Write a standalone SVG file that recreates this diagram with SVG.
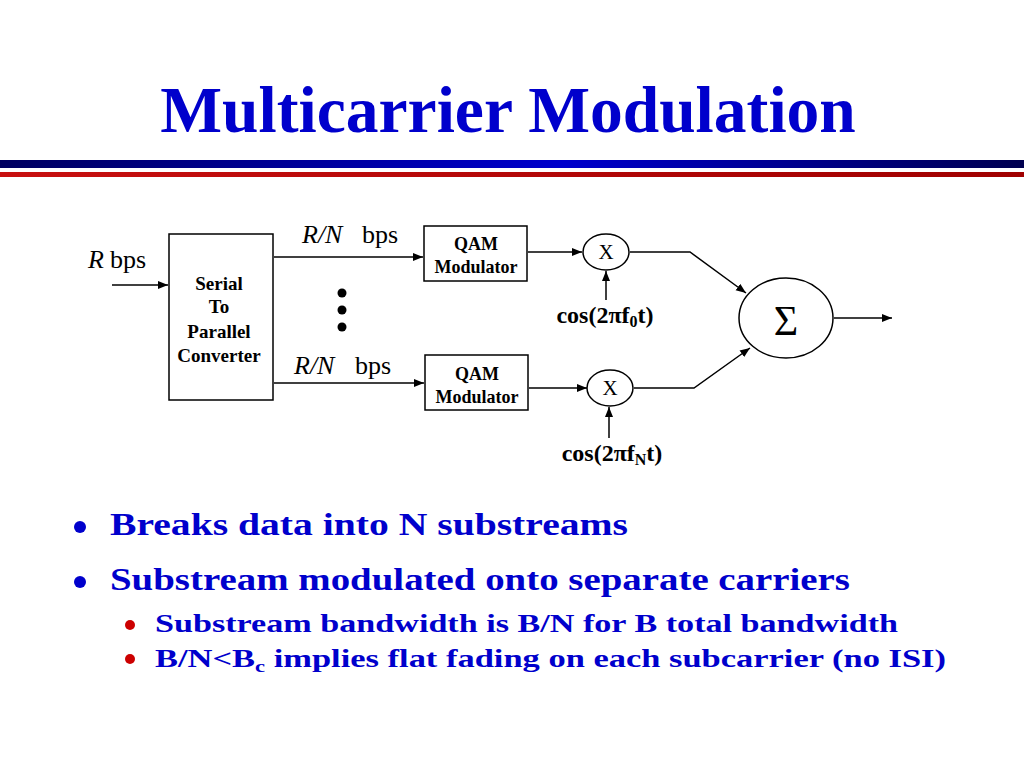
<svg xmlns="http://www.w3.org/2000/svg" width="1024" height="768" viewBox="0 0 1024 768">
<defs>
<linearGradient id="gb" x1="0" y1="0" x2="1" y2="0">
<stop offset="0" stop-color="#000060"/>
<stop offset="0.55" stop-color="#0000CC"/>
<stop offset="1" stop-color="#000050"/>
</linearGradient>
<linearGradient id="gr" x1="0" y1="0" x2="1" y2="0">
<stop offset="0" stop-color="#C81010"/>
<stop offset="1" stop-color="#A00000"/>
</linearGradient>
<marker id="ah" viewBox="0 0 10 10" refX="10" refY="5" markerWidth="10" markerHeight="10" markerUnits="userSpaceOnUse" orient="auto">
<path d="M0,1 L10,5 L0,9 Z" fill="#000"/>
</marker>
<style>
.t{font-family:"Liberation Serif","Times New Roman",serif;fill:#000}
.b{font-weight:bold}
.box{fill:#fff;stroke:#000;stroke-width:1.5}
.ln{fill:none;stroke:#000;stroke-width:1.5}
.ar{fill:none;stroke:#000;stroke-width:1.5;marker-end:url(#ah)}
.blue{font-family:"Liberation Serif","Times New Roman",serif;font-weight:bold;fill:#0000CC}
</style>
</defs>
<rect width="1024" height="768" fill="#fff"/>
<text class="blue" x="508" y="132" font-size="65.5" text-anchor="middle">Multicarrier Modulation</text>
<rect x="0" y="160" width="1024" height="8" fill="url(#gb)"/>
<rect x="0" y="172" width="1024" height="5" fill="url(#gr)"/>

<g id="connectors">
<line class="ar" x1="112" y1="285" x2="168" y2="285"/>
<line class="ar" x1="274" y1="257" x2="423" y2="257"/>
<line class="ar" x1="274" y1="383" x2="424" y2="383"/>
<line class="ar" x1="528" y1="252" x2="582" y2="252"/>
<line class="ar" x1="529" y1="388" x2="587" y2="388"/>
<line class="ar" x1="606" y1="300" x2="606" y2="271"/>
<line class="ar" x1="609" y1="438" x2="609" y2="407"/>
<polyline class="ar" points="630,252 690,252 746,293"/>
<polyline class="ar" points="634,388 694,388 750,348"/>
<line class="ar" x1="834" y1="318" x2="892" y2="318"/>
</g>

<g id="rbps"><text class="t" x="88" y="268" font-size="26"><tspan font-style="italic">R</tspan><tspan x="110">bps</tspan></text></g>
<g id="s2p">
<rect class="box" x="169" y="234" width="104" height="166"/>
<text class="t b" x="219" y="290" font-size="19" text-anchor="middle">Serial</text>
<text class="t b" x="219" y="313" font-size="19" text-anchor="middle">To</text>
<text class="t b" x="219" y="338" font-size="19" text-anchor="middle">Parallel</text>
<text class="t b" x="219" y="362" font-size="19" text-anchor="middle">Converter</text>
</g>
<g id="rn1"><text class="t" x="302" y="243" font-size="26"><tspan font-style="italic">R/N</tspan><tspan x="362">bps</tspan></text></g>
<g id="rn2"><text class="t" x="294" y="374" font-size="26"><tspan font-style="italic">R/N</tspan><tspan x="355">bps</tspan></text></g>
<g id="dots">
<circle cx="342" cy="293" r="4.5" fill="#000"/>
<circle cx="342" cy="310" r="4.5" fill="#000"/>
<circle cx="342" cy="327" r="4.5" fill="#000"/>
</g>
<g id="qam1">
<rect class="box" x="424" y="226" width="103" height="55"/>
<text class="t b" x="476" y="250" font-size="18" text-anchor="middle">QAM</text>
<text class="t b" x="476" y="273" font-size="18" text-anchor="middle">Modulator</text>
</g>
<g id="qam2">
<rect class="box" x="425" y="355" width="103" height="55"/>
<text class="t b" x="477" y="380" font-size="18" text-anchor="middle">QAM</text>
<text class="t b" x="477" y="403" font-size="18" text-anchor="middle">Modulator</text>
</g>
<g id="mix1">
<ellipse class="box" cx="606" cy="252" rx="23" ry="18"/>
<text class="t" x="606" y="259" font-size="21" text-anchor="middle">X</text>
</g>
<g id="mix2">
<ellipse class="box" cx="610" cy="388" rx="23" ry="18"/>
<text class="t" x="610" y="395" font-size="21" text-anchor="middle">X</text>
</g>
<g id="cos0"><text class="t b" x="605" y="323" font-size="24" text-anchor="middle">cos(2πf<tspan font-size="16" dy="4">0</tspan><tspan dy="-4">t)</tspan></text></g>
<g id="cosN"><text class="t b" x="612" y="461" font-size="24" text-anchor="middle">cos(2πf<tspan font-size="16" dy="4">N</tspan><tspan dy="-4">t)</tspan></text></g>
<g id="sum">
<ellipse class="box" cx="786" cy="318" rx="47" ry="40"/>
<text class="t" x="786" y="335" font-size="42" text-anchor="middle">Σ</text>
</g>

<g id="bullets">
<circle cx="80" cy="527" r="6" fill="#0000CC"/>
<text class="blue" x="110" y="535" font-size="31" textLength="518" lengthAdjust="spacingAndGlyphs">Breaks data into N substreams</text>
<circle cx="80" cy="582" r="6" fill="#0000CC"/>
<text class="blue" x="110" y="590" font-size="31" textLength="740" lengthAdjust="spacingAndGlyphs">Substream modulated onto separate carriers</text>
<circle cx="130" cy="625" r="5" fill="#CC0000"/>
<text class="blue" x="155" y="632" font-size="26" textLength="743" lengthAdjust="spacingAndGlyphs">Substream bandwidth is B/N for B total bandwidth</text>
<circle cx="130" cy="659" r="5" fill="#CC0000"/>
<text class="blue" x="155" y="667" font-size="26" textLength="791" lengthAdjust="spacingAndGlyphs">B/N&lt;B<tspan font-size="17" dy="5">c</tspan><tspan dy="-5"> implies flat fading on each subcarrier (no ISI)</tspan></text>
</g>
</svg>
